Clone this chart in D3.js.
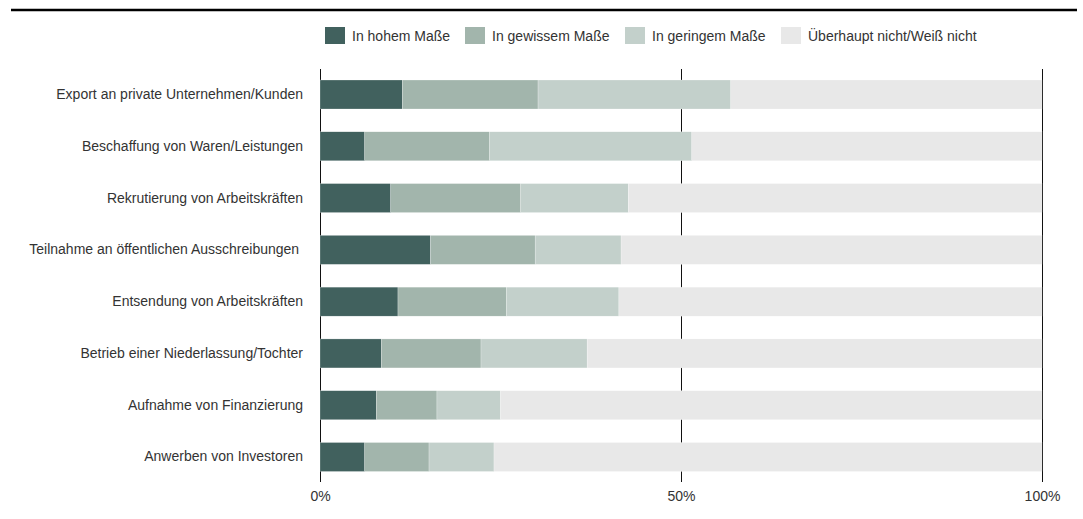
<!DOCTYPE html>
<html>
<head>
<meta charset="utf-8">
<script src="https://cdn.jsdelivr.net/npm/d3@7"></script>
<style>
  body { margin: 0; background: #fff; }
  text { font-family: "Liberation Sans", Arial, sans-serif; fill: #333; }
</style>
</head>
<body>
<div id="container"></div>
<script>
// categories (top to bottom)
let categories = [
  "Export an private Unternehmen/Kunden",
  "Beschaffung von Waren/Leistungen",
  "Rekrutierung von Arbeitskräften",
  "Teilnahme an öffentlichen Ausschreibungen ",
  "Entsendung von Arbeitskräften",
  "Betrieb einer Niederlassung/Tochter",
  "Aufnahme von Finanzierung",
  "Anwerben von Investoren"
];

let seriesNames = ["In hohem Maße", "In gewissem Maße", "In geringem Maße", "Überhaupt nicht/Weiß nicht"];

// shares in percent, one array per series
let hohem    = [11.4, 6.2, 9.8, 15.3, 10.8, 8.5, 7.8, 6.2];
let gewissem = [18.8, 17.3, 18.0, 14.5, 15.0, 13.8, 8.4, 8.9];
let geringem = [26.7, 28.0, 14.9, 11.9, 15.6, 14.7, 8.8, 9.0];
let garnicht = [43.1, 48.5, 57.3, 58.3, 58.6, 63.0, 75.0, 75.9];

let tickValues = [0, 50, 100];
let colors = ["#41615e", "#a2b5ac", "#c3d0cb", "#e8e8e8"];

let w = 1083;
let h = 519;
let fontSize = 14;

let viz = d3.select("#container")
  .append("svg")
    .attr("width", w)
    .attr("height", h);

// table for the stack layout
let table = categories.map(function(c, i){
  return {
    cat: c,
    s0: hohem[i],
    s1: gewissem[i],
    s2: geringem[i],
    s3: garnicht[i]
  };
});
let keys = ["s0", "s1", "s2", "s3"];
let stacked = d3.stack().keys(keys)(table);

let xScale = d3.scaleLinear().domain([0, 100]).range([320, 1042]);
let yScale = d3.scaleBand().domain(categories).range([65.5, 486]).paddingInner(0.44).paddingOuter(0.28);

// top rule
viz.append("line")
  .attr("x1", 11).attr("x2", 1077)
  .attr("y1", 10).attr("y2", 10)
  .attr("stroke", "#000")
  .attr("stroke-width", 2.5);

// gridlines at 0, 50, 100
viz.append("g").selectAll("line")
  .data(tickValues)
  .enter()
  .append("line")
    .attr("x1", d => Math.round(xScale(d)) + 0.5)
    .attr("x2", d => Math.round(xScale(d)) + 0.5)
    .attr("y1", 69)
    .attr("y2", 482)
    .attr("stroke", "#111")
    .attr("stroke-width", 1);

// bars
let barGroup = viz.append("g");
barGroup.selectAll("g")
  .data(stacked)
  .enter()
  .append("g")
    .attr("fill", (d, i) => colors[i])
  .selectAll("rect")
  .data(d => d)
  .enter()
  .append("rect")
    .attr("x", d => xScale(d[0]))
    .attr("width", d => xScale(d[1]) - xScale(d[0]))
    .attr("y", d => yScale(d.data.cat))
    .attr("height", yScale.bandwidth())
    .attr("stroke", "#fff")
    .attr("stroke-width", 0.4)
    .attr("stroke-opacity", 0.6);

// category labels
let yAxis = d3.axisLeft(yScale).tickSize(0).tickPadding(0);
let yAxisGroup = viz.append("g")
  .attr("transform", "translate(303,0)")
  .call(yAxis);
yAxisGroup.select(".domain").remove();
yAxisGroup.selectAll("text")
  .style("white-space", "pre")
  .attr("font-size", fontSize)
  .attr("font-family", "Liberation Sans, Arial, sans-serif")
  .attr("fill", "#333");

// x tick labels
let xAxis = d3.axisBottom(xScale).tickValues(tickValues).tickSize(0).tickPadding(0).tickFormat(d => d + "%");
let xAxisGroup = viz.append("g")
  .attr("transform", "translate(0,491)")
  .call(xAxis);
xAxisGroup.select(".domain").remove();
xAxisGroup.selectAll("text")
  .attr("font-size", fontSize)
  .attr("font-family", "Liberation Sans, Arial, sans-serif")
  .attr("fill", "#333");

// legend
let legendX = [325, 465, 625, 781];
let legend = viz.append("g").selectAll("g")
  .data(seriesNames)
  .enter()
  .append("g")
    .attr("transform", (d, i) => "translate(" + legendX[i] + ",27)");
legend.append("rect")
  .attr("width", 20)
  .attr("height", 17)
  .attr("fill", (d, i) => colors[i]);
legend.append("text")
  .attr("x", 27)
  .attr("y", 14)
  .attr("font-size", fontSize)
  .text(d => d);
</script>
</body>
</html>
